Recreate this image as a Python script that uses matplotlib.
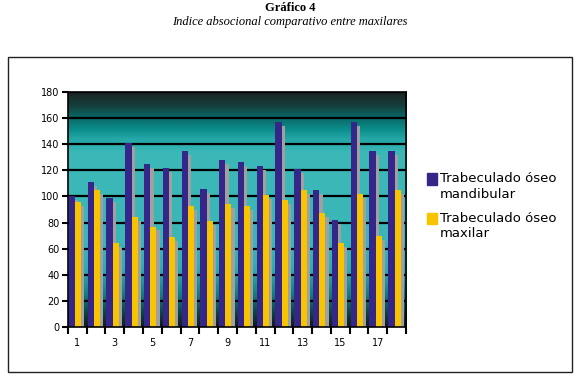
import numpy as np
import matplotlib
matplotlib.use('Agg')
import matplotlib.pyplot as plt
from matplotlib.colors import LinearSegmentedColormap
from matplotlib.patches import Rectangle

# datos
casos = list(range(1, 19))
mandibular = [100, 111, 99, 141, 125, 122, 135, 106, 128, 126, 123, 157, 121, 105, 82, 157, 135, 135]
maxilar = [96, 105, 64, 84, 77, 69, 93, 81, 94, 93, 101, 97, 105, 87, 64, 102, 70, 105]
series = ['Trabeculado óseo\nmandibular', 'Trabeculado óseo\nmaxilar']
colores = ['#35268a', '#f8c400']
yticks = list(range(0, 181, 20))

fig = plt.figure(figsize=(5.8, 3.88), dpi=100)

# titulo
fig.text(0.5, 0.979, 'Gráfico 4', ha='center', va='center',
         family='Liberation Serif', fontweight='bold', fontsize=9)
fig.text(0.5, 0.943, 'Indice absocional comparativo entre maxilares', ha='center', va='center',
         family='Liberation Serif', style='italic', fontsize=9)

# marco exterior
fig.patches.append(Rectangle((0.014, 0.041), 0.972, 0.812, transform=fig.transFigure,
                             fill=False, edgecolor='#222222', linewidth=1.0))

ax = fig.add_axes([0.117, 0.157, 0.583, 0.606])

# fondo degradado
stops = [(0.0, '#141818'), (0.06, '#0c4444'), (0.14, '#12807e'), (0.24, '#2eacac'),
         (0.35, '#3ab6b6'), (0.74, '#3cb8b8'), (0.80, '#22a6a6'), (0.84, '#0a8c8a'),
         (0.89, '#0a6866'), (0.94, '#143e3c'), (1.0, '#1c2222')]
cmap = LinearSegmentedColormap.from_list('fondo', stops)
grad = np.linspace(0, 1, 256).reshape(-1, 1)
ax.imshow(grad, cmap=cmap, origin='lower', aspect='auto', extent=[0, 18, 0, 180], zorder=0)

for y in yticks[1:]:
    ax.axhline(y, color='black', linewidth=1.6, zorder=1)

x = np.arange(len(casos))
w = 0.34
off1, off2 = 0.05, 0.39
sh = 0.17
ax.bar(x + off1 + sh, np.array(mandibular) - 3, width=w, align='edge', color='#a0a0a0', zorder=2)
ax.bar(x + off1, mandibular, width=w, align='edge', color=colores[0], zorder=3)
ax.bar(x + off2 + sh, np.array(maxilar) - 3, width=w - 0.02, align='edge', color='#a0a0a0', zorder=4)
ax.bar(x + off2, maxilar, width=w - 0.02, align='edge', color=colores[1], zorder=5)

ax.set_xlim(0, 18)
ax.set_ylim(0, 180)
ax.set_yticks(yticks)
ax.set_xticks(range(0, 19))
ax.set_xticklabels([])
ax.set_xticks([c - 0.5 for c in casos[::2]], minor=True)
ax.set_xticklabels([str(c) for c in casos[::2]], minor=True)
ax.tick_params(axis='x', which='major', direction='out', length=5, width=1.5)
ax.tick_params(axis='x', which='minor', length=0, pad=8, labelsize=7)
ax.tick_params(axis='y', direction='out', length=4, width=1.5, labelsize=7, pad=2)
for s in ax.spines.values():
    s.set_color('black')
    s.set_linewidth(1.2)
    s.set_zorder(6)

# leyenda
ys = [0.538, 0.436]
for lab, col, yy in zip(series, colores, ys):
    fig.patches.append(Rectangle((0.736, yy - 0.014), 0.018, 0.03, transform=fig.transFigure,
                                 color=col))
    fig.text(0.759, yy + 0.018, lab, ha='left', va='top', fontsize=9.5, linespacing=1.25)

fig.savefig('out.png', dpi=100)
